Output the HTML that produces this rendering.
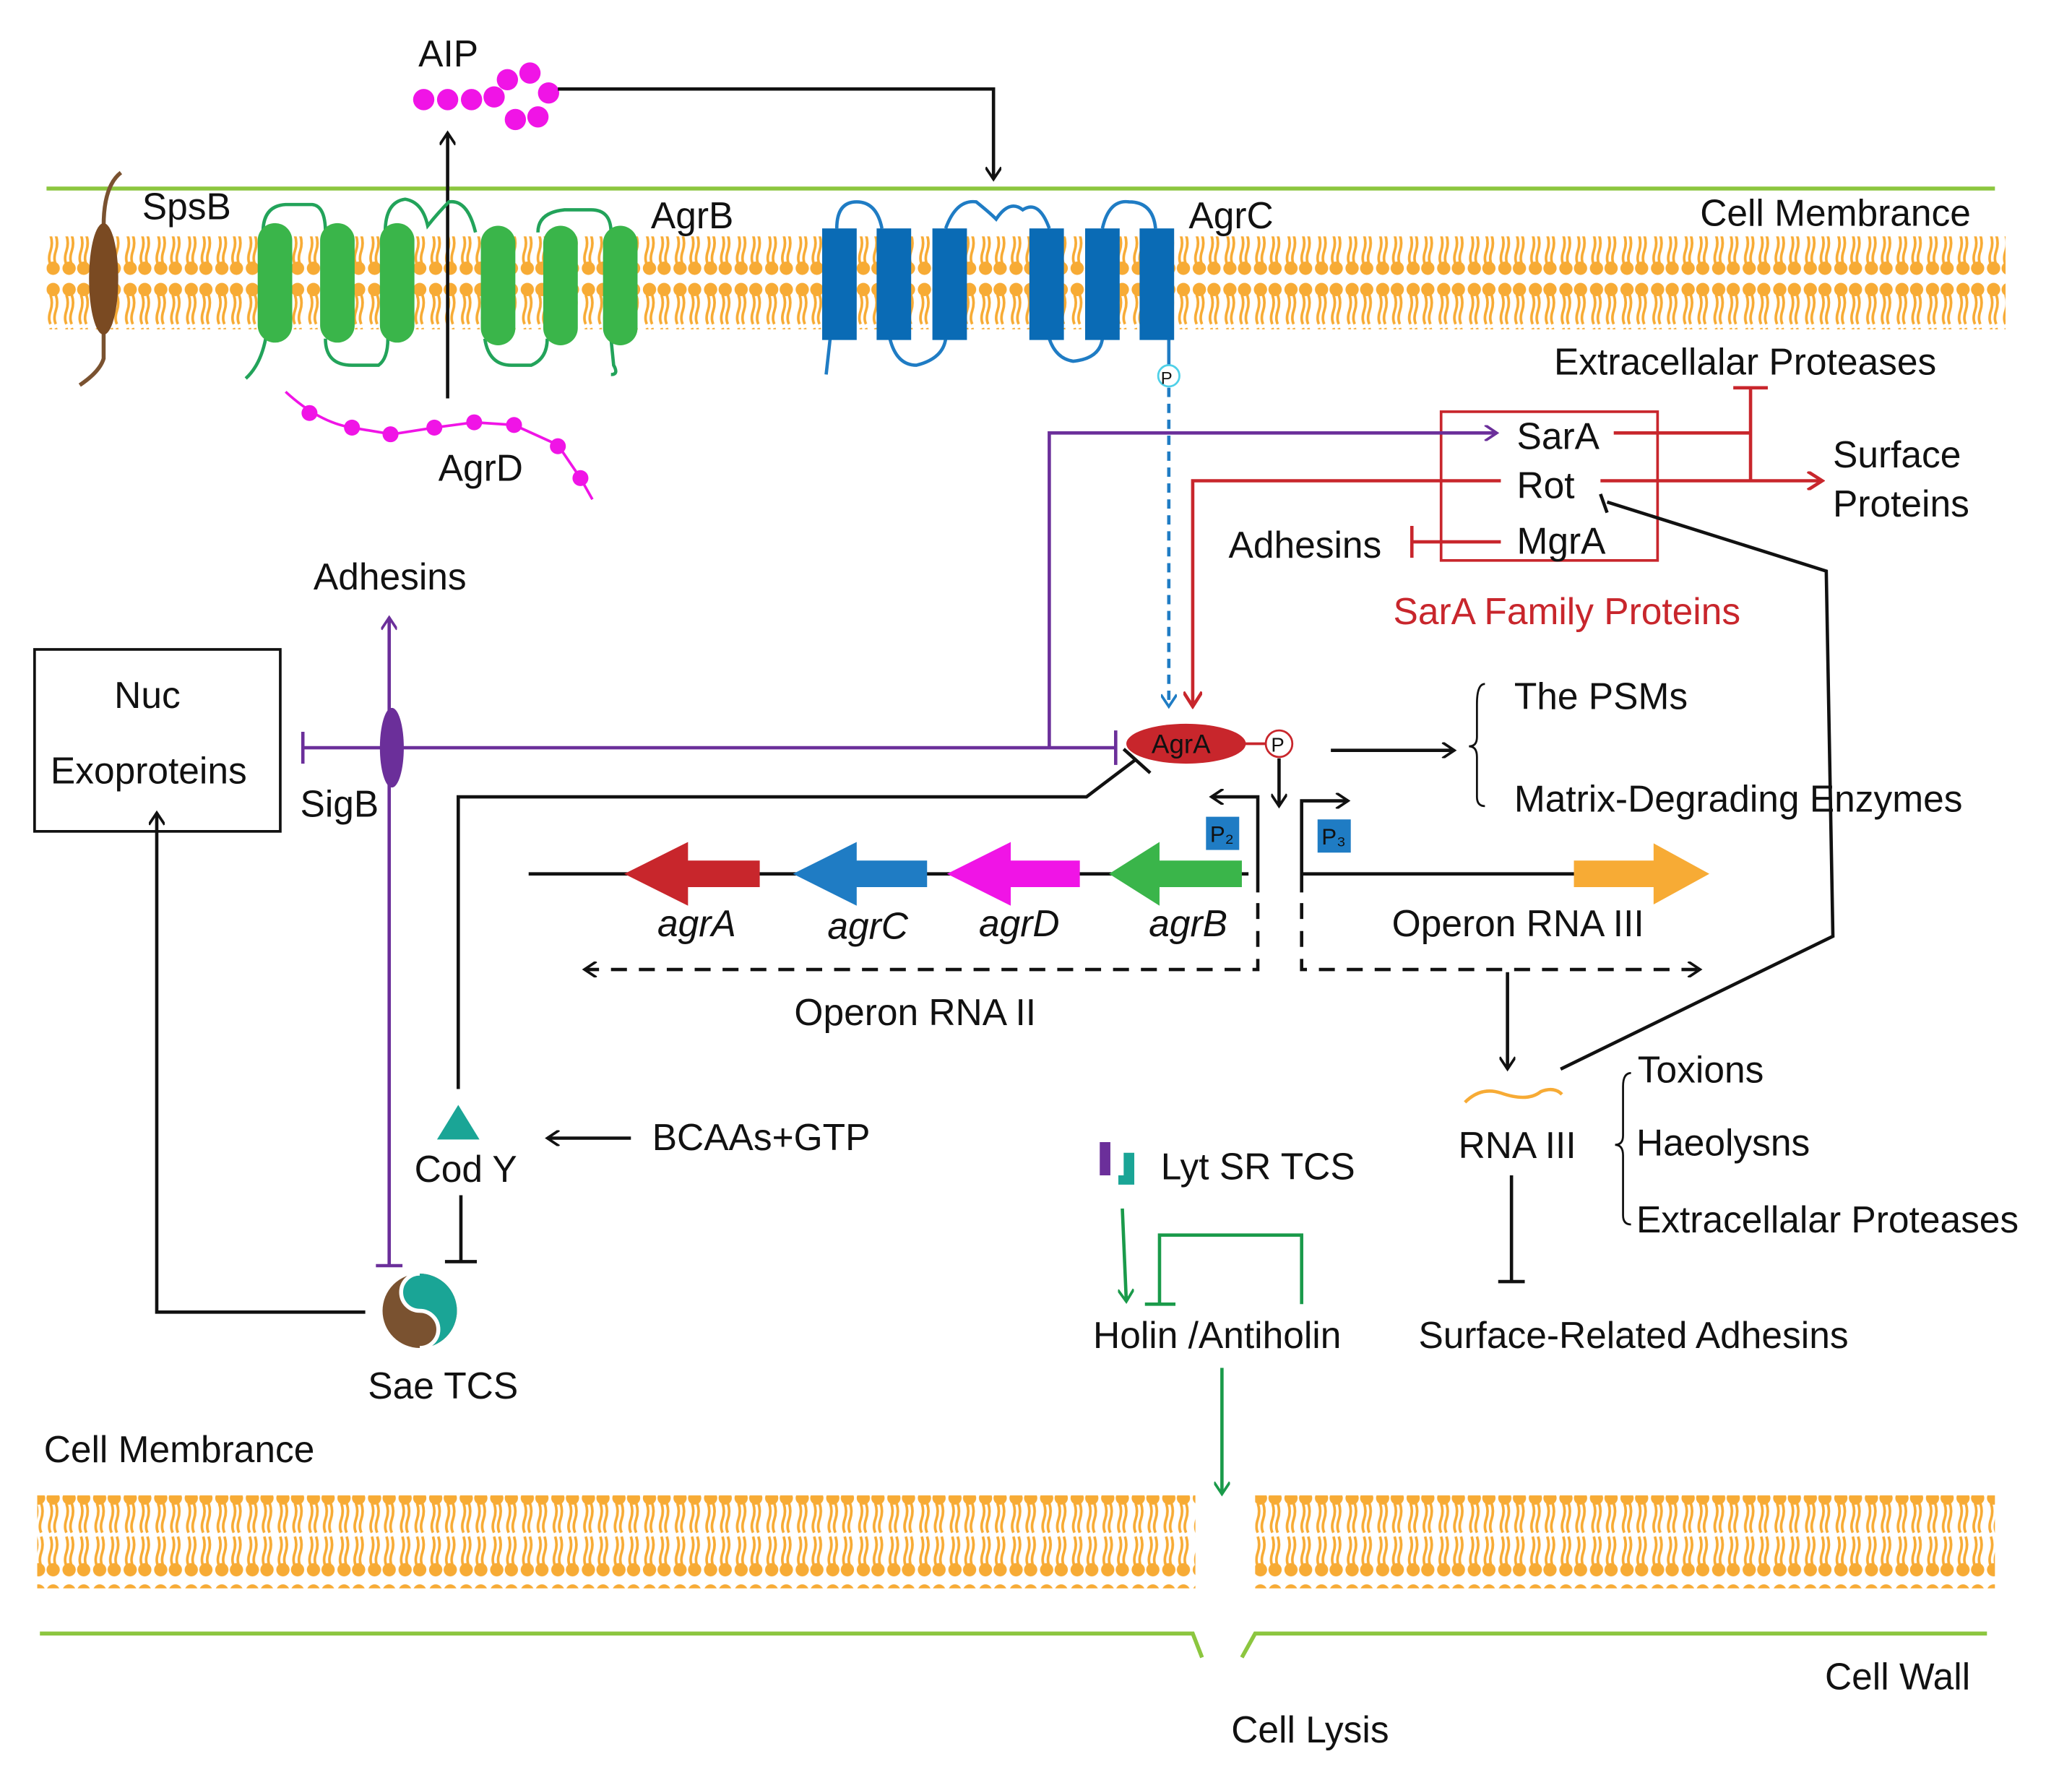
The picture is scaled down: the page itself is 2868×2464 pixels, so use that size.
<!DOCTYPE html>
<html><head><meta charset="utf-8"><style>html,body{margin:0;padding:0;background:#fff}svg{display:block}text{font-family:"Liberation Sans",Arial,sans-serif;font-size:28px;fill:#111}</style></head><body>
<svg width="2868" height="2464" viewBox="0 0 1560 1340.3" xmlns="http://www.w3.org/2000/svg">
<defs>
<pattern id="lip" x="0" y="0" width="23" height="70" patternUnits="userSpaceOnUse">
<circle cx="6" cy="8" r="5" fill="#f7ab35"/><circle cx="17" cy="8" r="5" fill="#f7ab35"/>
<circle cx="6" cy="62" r="5" fill="#f7ab35"/><circle cx="17" cy="62" r="5" fill="#f7ab35"/>
<path d="M4 12 q2 6 0 12 q-2 6 0 10 M8 12 q2 6 0 12 q-2 6 0 10 M15 12 q2 6 0 12 q-2 6 0 10 M19 12 q2 6 0 12 q-2 6 0 10 M4 37 q2 6 0 12 q-2 6 0 10 M8 37 q2 6 0 12 q-2 6 0 10 M15 37 q2 6 0 12 q-2 6 0 10 M19 37 q2 6 0 12 q-2 6 0 10" stroke="#f7ab35" stroke-width="2" fill="none"/>
</pattern>
<marker id="ab" markerWidth="12" markerHeight="12" refX="10" refY="6" orient="auto" markerUnits="userSpaceOnUse"><path d="M1 0 L10 6 L1 12" fill="none" stroke="#111" stroke-width="2"/></marker>
<marker id="ap" markerWidth="12" markerHeight="12" refX="10" refY="6" orient="auto" markerUnits="userSpaceOnUse"><path d="M1 0 L10 6 L1 12" fill="none" stroke="#6b2f9a" stroke-width="2"/></marker>
<marker id="ar" markerWidth="14" markerHeight="14" refX="12" refY="7" orient="auto" markerUnits="userSpaceOnUse"><path d="M1 0 L12 7 L1 14" fill="none" stroke="#c8262c" stroke-width="2.5"/></marker>
<marker id="ag" markerWidth="12" markerHeight="12" refX="10" refY="6" orient="auto" markerUnits="userSpaceOnUse"><path d="M1 0 L10 6 L1 12" fill="none" stroke="#1a9a4a" stroke-width="2"/></marker>
<marker id="abl" markerWidth="12" markerHeight="12" refX="10" refY="6" orient="auto" markerUnits="userSpaceOnUse"><path d="M1 0 L10 6 L1 12" fill="none" stroke="#1f7cc4" stroke-width="2"/></marker>
</defs>
<!-- membranes -->
<line x1="35" y1="142" x2="1502" y2="142" stroke="#8cc63f" stroke-width="3"/>
<rect x="35" y="178" width="1475" height="70" fill="url(#lip)"/>
<rect x="28" y="1126" width="872" height="70" fill="url(#lip)"/>
<rect x="945" y="1126" width="557" height="70" fill="url(#lip)"/>
<path d="M30 1230 L898 1230 L905 1248 M935 1248 L945 1230 L1496 1230" stroke="#8cc63f" stroke-width="3" fill="none"/>
<!-- AIP -->
<text x="315" y="50">AIP</text>
<g fill="#f014e6"><circle cx="319" cy="75" r="8"/><circle cx="337" cy="75" r="8"/><circle cx="355" cy="75" r="8"/><circle cx="372" cy="73" r="8"/><circle cx="382" cy="60" r="8"/><circle cx="399" cy="55" r="8"/><circle cx="413" cy="70" r="8"/><circle cx="405" cy="88" r="8"/><circle cx="388" cy="90" r="8"/></g>
<path d="M420 67 L748 67 L748 135" fill="none" stroke="#111" stroke-width="2.5" marker-end="url(#ab)"/>
<line x1="337" y1="300" x2="337" y2="100" stroke="#111" stroke-width="2.5" marker-end="url(#ab)"/>
<!-- SpsB -->
<path d="M91 130 Q78 140 78 170 M78 250 L78 270 Q75 280 60 290" stroke="#7a5230" stroke-width="3" fill="none"/>
<ellipse cx="78" cy="210" rx="11" ry="42" fill="#7a4a22"/>
<text x="107" y="165">SpsB</text>
<!-- AgrB -->
<g fill="none" stroke="#22a35a" stroke-width="2.5">
<path d="M198 175 Q198 155 215 154 L235 154 Q245 155 245 175"/>
<path d="M290 175 Q290 152 305 150 Q318 152 322 170 Q330 160 338 152 Q352 150 358 175"/>
<path d="M405 175 Q405 160 425 158 L445 158 Q460 158 460 175"/>
<path d="M200 255 Q196 275 185 285"/>
<path d="M245 255 Q245 275 265 275 L285 275 Q292 270 292 255"/>
<path d="M365 255 Q368 275 385 275 L400 275 Q412 270 412 255"/>
<path d="M460 255 L462 275 Q466 282 460 282"/>
</g>
<g fill="#3ab54a">
<rect x="194" y="168" width="26" height="90" rx="13"/><rect x="241" y="168" width="26" height="90" rx="13"/><rect x="286" y="168" width="26" height="90" rx="13"/>
<rect x="362" y="170" width="26" height="90" rx="13"/><rect x="409" y="170" width="26" height="90" rx="13"/><rect x="454" y="170" width="26" height="90" rx="13"/>
</g>
<text x="490" y="172">AgrB</text>
<!-- AgrD -->
<path d="M215 295 Q240 318 265 322 L295 327 L327 322 L357 318 L387 320 L420 335 L437 360 L446 376" fill="none" stroke="#f014e6" stroke-width="2"/>
<g fill="#f014e6"><circle cx="233" cy="311" r="6"/><circle cx="265" cy="322" r="6"/><circle cx="294" cy="327" r="6"/><circle cx="327" cy="322" r="6"/><circle cx="357" cy="318" r="6"/><circle cx="387" cy="320" r="6"/><circle cx="420" cy="336" r="6"/><circle cx="437" cy="360" r="6"/></g>
<text x="330" y="362">AgrD</text>
<!-- AgrC -->
<g fill="none" stroke="#1f7cc4" stroke-width="2.5">
<path d="M630 172 Q630 152 645 152 Q660 152 664 172"/>
<path d="M712 172 Q720 150 735 152 Q745 160 750 165 Q760 150 770 158 Q782 150 790 172"/>
<path d="M830 172 Q835 150 850 152 Q868 152 870 172"/>
<path d="M625 255 L622 282"/>
<path d="M670 255 Q675 275 690 275 Q710 270 712 255"/>
<path d="M790 255 Q795 270 808 272 Q828 270 830 255"/>
<path d="M880 255 L880 275"/>
</g>
<g fill="#0a6bb5">
<rect x="619" y="172" width="26" height="84"/><rect x="660" y="172" width="26" height="84"/><rect x="702" y="172" width="26" height="84"/>
<rect x="775" y="172" width="26" height="84"/><rect x="817" y="172" width="26" height="84"/><rect x="858" y="172" width="26" height="84"/>
</g>
<text x="895" y="172">AgrC</text>
<text x="1280" y="170">Cell Membrance</text>
<circle cx="880" cy="283" r="8" fill="#fff" stroke="#4fd0e8" stroke-width="1.5"/>
<text x="874" y="289" style="font-size:13px">P</text>
<line x1="880" y1="292" x2="880" y2="532" stroke="#1f7cc4" stroke-width="2.5" stroke-dasharray="7,5" marker-end="url(#abl)"/>
<!-- SarA family -->
<text x="1170" y="282">Extracellalar Proteases</text>
<rect x="1085" y="310" width="163" height="112" fill="none" stroke="#c8262c" stroke-width="2"/>
<text x="1142" y="338">SarA</text><text x="1142" y="375">Rot</text><text x="1142" y="417">MgrA</text>
<text x="1380" y="352">Surface</text><text x="1380" y="389">Proteins</text>
<text x="925" y="420">Adhesins</text>
<text x="1049" y="470" style="fill:#c8262c">SarA Family Proteins</text>
<g stroke="#c8262c" stroke-width="2.5" fill="none">
<path d="M1215 326 L1318 326"/>
<path d="M1318 292 L1318 362"/><path d="M1305 292 L1331 292"/>
<path d="M1205 362 L1372 362" marker-end="url(#ar)"/>
<path d="M1130 362 L898 362 L898 532" marker-end="url(#ar)"/>
<path d="M1130 408 L1063 408"/><path d="M1063 396 L1063 420"/>
</g>
<!-- purple -->
<g stroke="#6b2f9a" stroke-width="2.5" fill="none">
<path d="M790 563 L790 326 L1127 326" marker-end="url(#ap)"/>
<path d="M228 563 L840 563"/><path d="M228 551 L228 575"/><path d="M840 550 L840 576"/>
<path d="M293 953 L293 465" marker-end="url(#ap)"/>
<path d="M283 953 L303 953"/>
</g>
<ellipse cx="295" cy="563" rx="9" ry="30" fill="#6b2f9a"/>
<text x="236" y="444">Adhesins</text>
<text x="226" y="615">SigB</text>
<rect x="26" y="489" width="185" height="137" fill="none" stroke="#111" stroke-width="2"/>
<text x="86" y="533">Nuc</text><text x="38" y="590">Exoproteins</text>
<!-- AgrA -->
<line x1="935" y1="560" x2="955" y2="560" stroke="#c8262c" stroke-width="2"/>
<ellipse cx="893" cy="560" rx="45" ry="15" fill="#c8262c"/>
<text x="867" y="567" style="font-size:20px">AgrA</text>
<circle cx="963" cy="560" r="10" fill="#fff" stroke="#c8262c" stroke-width="1.5"/>
<text x="957" y="566" style="font-size:15px">P</text>
<g stroke="#111" stroke-width="2.5" fill="none">
<path d="M1002 565 L1095 565" marker-end="url(#ab)"/>
<path d="M963 571 L963 607" marker-end="url(#ab)"/>
<path d="M345 820 L345 600 L818 600 L855 572"/><path d="M846 564 L866 582"/>
<path d="M947 672 L947 600 L912 600" marker-end="url(#ab)"/>
<path d="M980 672 L980 603 L1015 603" marker-end="url(#ab)"/>
<path d="M398 658 L940 658"/>
<path d="M980 658 L1190 658"/>
<path d="M947 680 L947 730 L440 730" stroke-dasharray="12,9" marker-end="url(#ab)"/>
<path d="M980 680 L980 730 L1280 730" stroke-dasharray="12,9" marker-end="url(#ab)"/>
<path d="M1135 732 L1135 805" marker-end="url(#ab)"/>
<path d="M1210 378 L1375 430 L1380 705 L1175 805"/><path d="M1205 372 L1210 386"/>
<path d="M1118 515 Q1112 515 1112 530 L1112 555 Q1112 562 1106 562 Q1112 562 1112 570 L1112 600 Q1112 607 1118 607" stroke-width="1.5"/>
<path d="M1228 808 Q1222 808 1222 818 L1222 855 Q1222 862 1216 862 Q1222 862 1222 870 L1222 915 Q1222 922 1228 922" stroke-width="1.5"/>
<path d="M1138 885 L1138 965"/><path d="M1128 965 L1148 965"/>
<path d="M475 857 L412 857" marker-end="url(#ab)"/>
<path d="M347 900 L347 950"/><path d="M335 950 L359 950"/>
<path d="M275 988 L118 988 L118 612" marker-end="url(#ab)"/>
</g>
<text x="1140" y="534">The PSMs</text>
<text x="1140" y="611">Matrix-Degrading Enzymes</text>
<!-- genes -->
<polygon points="470,658 518,634 518,648 572,648 572,668 518,668 518,682" fill="#c8262c"/>
<polygon points="597,658 645,634 645,648 698,648 698,668 645,668 645,682" fill="#1f7cc4"/>
<polygon points="713,658 761,634 761,648 813,648 813,668 761,668 761,682" fill="#f014e6"/>
<polygon points="835,658 873,634 873,648 935,648 935,668 873,668 873,682" fill="#3ab54a"/>
<polygon points="1185,648 1245,648 1245,635 1287,658 1245,681 1245,668 1185,668" fill="#f7ab35"/>
<rect x="908" y="615" width="25" height="25" fill="#1f7cc4"/><text x="911" y="634" style="font-size:17px">P₂</text>
<rect x="992" y="617" width="25" height="25" fill="#1f7cc4"/><text x="995" y="636" style="font-size:17px">P₃</text>
<text x="495" y="705" style="font-style:italic">agrA</text><text x="623" y="707" style="font-style:italic">agrC</text><text x="737" y="705" style="font-style:italic">agrD</text><text x="865" y="705" style="font-style:italic">agrB</text>
<text x="1048" y="705">Operon RNA III</text>
<text x="598" y="772">Operon RNA II</text>
<!-- RNA III -->
<path d="M1103 830 Q1115 818 1130 823 Q1150 830 1160 822 Q1170 818 1176 824" stroke="#f7ab35" stroke-width="2.5" fill="none"/>
<text x="1098" y="872">RNA III</text>
<text x="1233" y="815">Toxions</text><text x="1232" y="870">Haeolysns</text><text x="1232" y="928">Extracellalar Proteases</text>
<text x="1068" y="1015">Surface-Related Adhesins</text>
<!-- CodY / Sae -->
<polygon points="329,858 345,832 361,858" fill="#1aa596"/>
<text x="312" y="890">Cod Y</text>
<text x="491" y="866">BCAAs+GTP</text>
<circle cx="316" cy="987" r="28" fill="#7a5230"/>
<path d="M316 959 A28 28 0 0 1 316 1015 A14 14 0 0 0 316 987 A14 14 0 0 1 316 959 Z" fill="#1aa596"/>
<path d="M316 959 A14 14 0 0 0 316 987 A14 14 0 0 1 316 1015" fill="none" stroke="#fff" stroke-width="3"/>
<text x="277" y="1053">Sae TCS</text>
<!-- Lyt -->
<path d="M828 860 L836 860 L836 885 L828 885 Z" fill="#6b2f9a"/><path d="M846 868 L854 868 L854 892 L842 892 L842 885 L846 885 Z" fill="#1aa596"/>
<text x="874" y="888">Lyt SR TCS</text>
<g stroke="#1a9a4a" stroke-width="2.5" fill="none">
<path d="M845 910 L848 980" marker-end="url(#ag)"/>
<path d="M980 982 L980 930 L873 930 L873 982"/><path d="M862 982 L885 982"/>
<path d="M920 1030 L920 1125" marker-end="url(#ag)"/>
</g>
<text x="823" y="1015">Holin /Antiholin</text>
<text x="33" y="1101">Cell Membrance</text>
<text x="1374" y="1272">Cell Wall</text>
<text x="927" y="1312">Cell Lysis</text>
</svg>
</body></html>
